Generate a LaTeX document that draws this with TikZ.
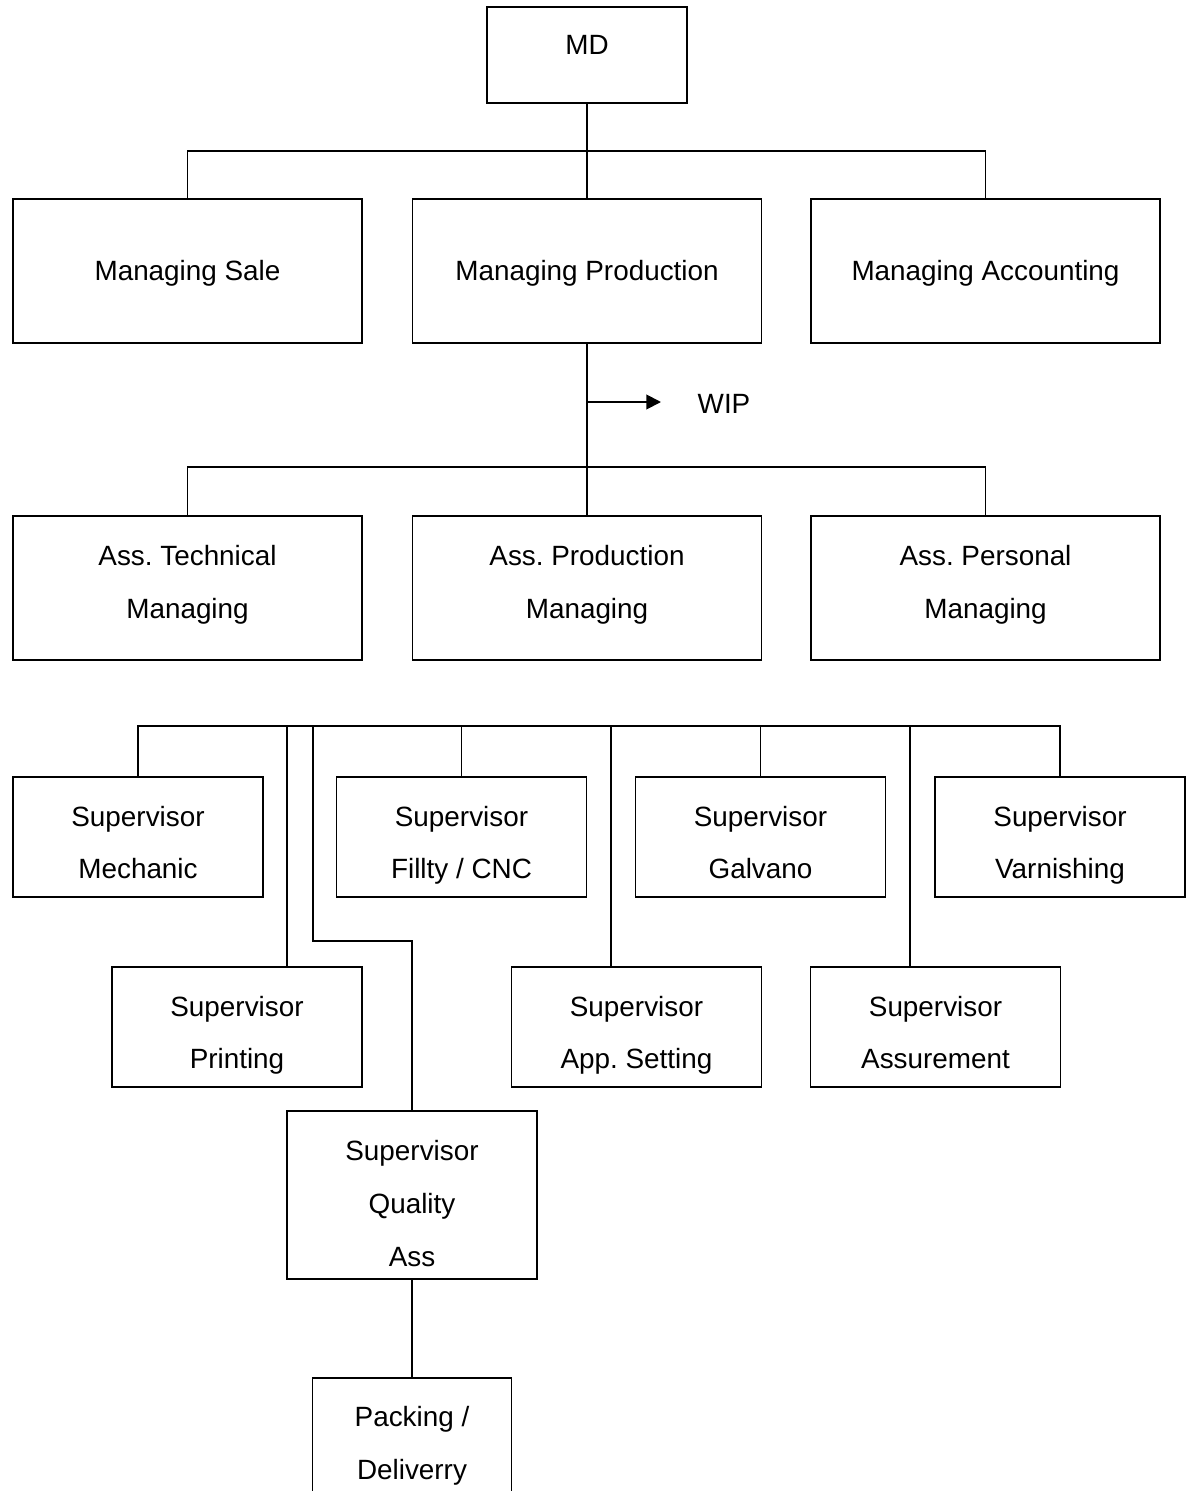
\documentclass[tikz,border=0pt]{standalone}
\usepackage{fontspec}
\setmainfont{Liberation Sans}
\usetikzlibrary{arrows.meta,calc}
\frenchspacing
\begin{document}
\begin{tikzpicture}[x=0.75pt,y=-0.75pt,line width=1.4pt,
  box/.style={draw,inner sep=0pt},
  bigbox/.style={box,minimum width=261.75pt,minimum height=108pt},
  smallbox/.style={box,minimum width=187.5pt,minimum height=90pt},
  lbl/.style={inner sep=0pt,font=\fontsize{20.9}{40}\selectfont},
  txt/.style={lbl,align=center,anchor=north}]
\useasboundingbox (0,0) rectangle (1186,1491);
\clip (0,0) rectangle (1186,1491);
\fill[white] (0,0) rectangle (1186,1491);

% top level
\node[box,minimum width=150pt,minimum height=72pt] (md) at (587,55) {};
\node[txt] (mdT) at ([yshift=-8pt]md.north) {\strut MD};

% managers
\node[bigbox] (sale) at (187.5,271) {};
\node[bigbox] (prod) at (587,271) {};
\node[bigbox] (acc)  at (985.5,271) {};
\node[txt] (saleT) at ([yshift=-32.75pt]sale.north) {\strut Managing Sale};
\node[txt] (prodT) at ([yshift=-32.75pt]prod.north) {\strut Managing Production};
\node[txt] (accT)  at ([yshift=-32.75pt]acc.north)  {\strut Managing Accounting};

% assistants
\node[bigbox] (atm) at (187.5,588) {};
\node[bigbox] (atp) at (587,588) {};
\node[bigbox] (apm) at (985.5,588) {};
\node[txt] (atmT) at ([yshift=-8.75pt]atm.north) {\strut Ass. Technical\\Managing};
\node[txt] (atpT) at ([yshift=-8.75pt]atp.north) {\strut Ass. Production\\Managing};
\node[txt] (apmT) at ([yshift=-8.75pt]apm.north) {\strut Ass. Personal\\Managing};

% supervisors, upper row
\node[smallbox] (mech) at (138,837)   {};
\node[smallbox] (fill) at (461.5,837) {};
\node[smallbox] (galv) at (760.5,837) {};
\node[smallbox] (varn) at (1060,837)  {};
\node[txt] (mechT) at ([yshift=-8.75pt]mech.north) {\strut Supervisor\\[-1pt]Mechanic};
\node[txt] (fillT) at ([yshift=-8.75pt]fill.north) {\strut Supervisor\\[-1pt]Fillty / CNC};
\node[txt] (galvT) at ([yshift=-8.75pt]galv.north) {\strut Supervisor\\[-1pt]Galvano};
\node[txt] (varnT) at ([yshift=-8.75pt]varn.north) {\strut Supervisor\\[-1pt]Varnishing};

% supervisors, lower row
\node[smallbox] (print) at (237,1027)   {};
\node[smallbox] (app)   at (636.5,1027) {};
\node[smallbox] (assur) at (935.5,1027) {};
\node[txt] (printT) at ([yshift=-8.75pt]print.north) {\strut Supervisor\\[-1pt]Printing};
\node[txt] (appT)   at ([yshift=-8.75pt]app.north)   {\strut Supervisor\\[-1pt]App. Setting};
\node[txt] (assurT) at ([yshift=-8.75pt]assur.north) {\strut Supervisor\\[-1pt]Assurement};

% quality and packing
\node[box,minimum width=187.5pt,minimum height=126pt] (qual) at (412,1195) {};
\node[txt] (qualT) at ([yshift=-8.75pt]qual.north) {\strut Supervisor\\Quality\\Ass};
\node[box,minimum width=149.25pt,minimum height=97.5pt] (pack) at (412,1443) {};
\node[txt] (packT) at ([yshift=-8pt]pack.north) {\strut Packing /\\Deliverry};

% connectors: MD to managers
\draw (md.south) -- (prod.north);
\draw (sale.north) -- ++(0,-47) -| (acc.north);

% WIP branch
\coordinate (wipfrom) at (587,402);
\coordinate (wiptip) at (661,402);
\draw[-{Triangle[length=11pt,width=11pt]}] (wipfrom) -- (wiptip);
\node[lbl] (wip) at (724,404) {WIP};

% production to assistants
\draw (prod.south) -- (atp.north);
\draw (atm.north) -- ++(0,-48) -| (apm.north);

% supervisor bus
\coordinate (sbus) at (0,727);
\draw (mech.north) -- ++(0,-50) -| (varn.north);
\draw (fill.north) -- (fill.north |- sbus);
\draw (galv.north) -- (galv.north |- sbus);
\coordinate (printin) at ($(print.north west)!0.7!(print.north east)$);
\draw (printin) -- (printin |- sbus);
\coordinate (appin) at ($(app.north west)!0.4!(app.north east)$);
\draw (appin) -- (appin |- sbus);
\coordinate (assurin) at ($(assur.north west)!0.4!(assur.north east)$);
\draw (assurin) -- (assurin |- sbus);
\coordinate (qualtap) at ($(print.north east)+(-50,0)$);
\draw (qual.north) -- ++(0,-169) -| (qualtap |- sbus);

% quality to packing
\draw (qual.south) -- (pack.north);
\end{tikzpicture}
\end{document}
